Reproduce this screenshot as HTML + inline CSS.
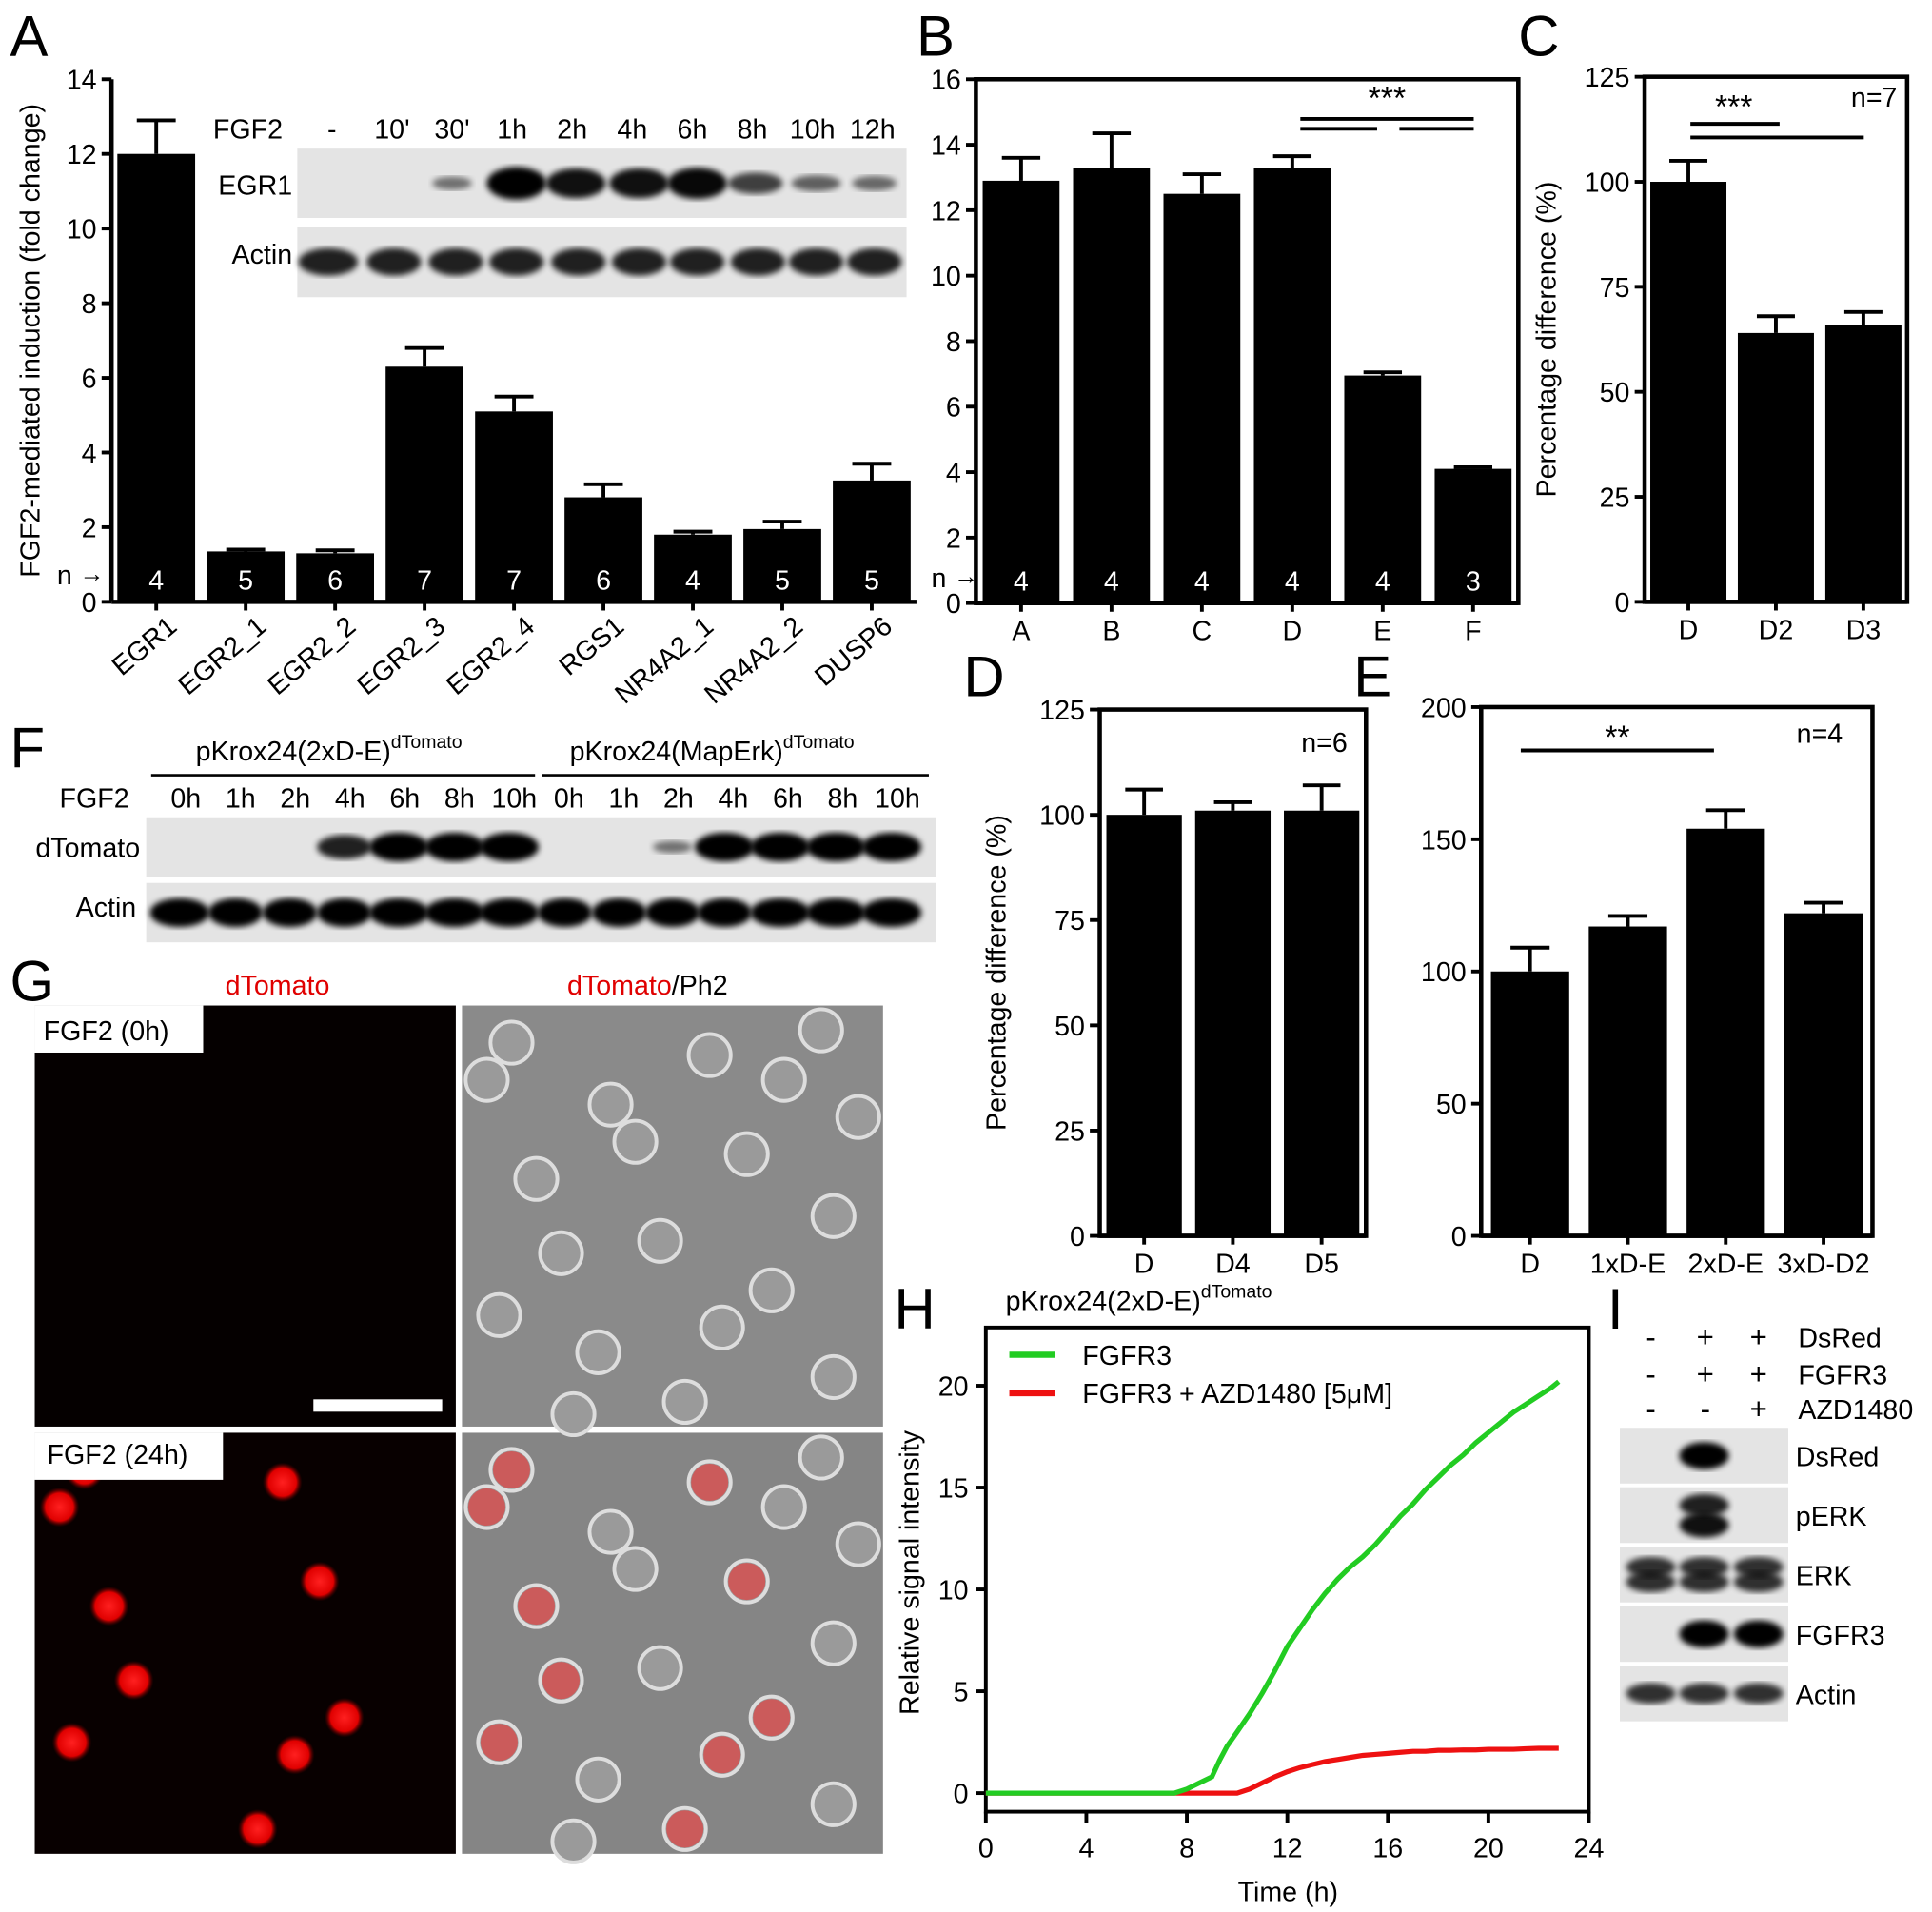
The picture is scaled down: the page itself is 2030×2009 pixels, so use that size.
<!DOCTYPE html>
<html><head><meta charset="utf-8"><style>
html,body{margin:0;padding:0;background:#fff}
svg{display:block}
text{font-family:"Liberation Sans",Arial,sans-serif}
</style></head><body>
<svg id="fig" width="2030" height="2009" viewBox="0 0 1560 1544" xmlns="http://www.w3.org/2000/svg">
<defs>
<radialGradient id="rd"><stop offset="0" stop-color="#ff2020"/><stop offset="0.7" stop-color="#e00000"/><stop offset="1" stop-color="#600000" stop-opacity="0"/></radialGradient>
<filter id="bl"><feGaussianBlur stdDeviation="2.5"/></filter>
</defs>
<g id="root"></g>
</svg>
<script>
// ---- data ----
const aCats=["EGR1","EGR2_1","EGR2_2","EGR2_3","EGR2_4","RGS1","NR4A2_1","NR4A2_2","DUSP6"];
const aVals=[12,1.35,1.3,6.3,5.1,2.8,1.8,1.95,3.25];
const aErr=[0.9,0.05,0.08,0.5,0.4,0.35,0.08,0.2,0.45];
const aN=["4","5","6","7","7","6","4","5","5"];
const aTicks=[0,2,4,6,8,10,12,14];
const bCats=["A","B","C","D","E","F"];
const bVals=[12.9,13.3,12.5,13.3,6.95,4.1];
const bErr=[0.7,1.05,0.6,0.35,0.1,0.05];
const bN=["4","4","4","4","4","3"];
const bTicks=[0,2,4,6,8,10,12,14,16];
const cCats=["D","D2","D3"];
const cVals=[100,64,66];
const cErr=[5,4,3];
const pTicks=[0,25,50,75,100,125];
const dCats=["D","D4","D5"];
const dVals=[100,101,101];
const dErr=[6,2,6];
const eCats=["D","1xD-E","2xD-E","3xD-D2"];
const eVals=[100,117,154,122];
const eErr=[9,4,7,4];
const eTicks=[0,50,100,150,200];
const hT=[0,7.5,8,8.5,9,9.3,9.6,10,10.5,11,11.5,12,12.5,13,13.5,14,14.5,15,15.5,16,16.5,17,17.5,18,18.5,19,19.5,20,20.5,21,21.5,22,22.5,22.8];
const hGreen=[0,0,0.2,0.5,0.8,1.6,2.3,3,3.9,4.9,6,7.2,8.1,9,9.8,10.5,11.1,11.6,12.2,12.9,13.6,14.2,14.9,15.5,16.1,16.6,17.2,17.7,18.2,18.7,19.1,19.5,19.9,20.2];
const hRed=[0,0,0,0,0,0,0,0,0.2,0.5,0.8,1.05,1.25,1.4,1.55,1.65,1.75,1.85,1.9,1.95,2,2.05,2.05,2.1,2.1,2.12,2.12,2.15,2.15,2.15,2.18,2.2,2.2,2.2];
const hXTicks=[0,4,8,12,16,20,24];
const hYTicks=[0,5,10,15,20];

const NS="http://www.w3.org/2000/svg";
const root=document.getElementById('root');
function el(tag,attrs,parent,txt){const e=document.createElementNS(NS,tag);for(const k in attrs)e.setAttribute(k,attrs[k]);if(txt!==undefined)e.textContent=txt;(parent||root).appendChild(e);return e;}
function T(x,y,s,size,anchor,extra){const a=Object.assign({x:x,y:y,"font-size":size||22,"text-anchor":anchor||"start"},extra||{});const t=el('text',a,null,s);return t;}
function TS(x,y,main,sup,mainColor){const t=el('text',{x:x,y:y,'font-size':22});const m=el('tspan',{fill:mainColor||'#000'},t,main);el('tspan',{dy:-10,'font-size':15},t,sup);return t;}

function barPanel(o){
  const g=el('g',{});
  
  
  const ys=v=>o.y0-(v-o.min)/(o.max-o.min)*(o.y0-o.yTop);
  if(o.box){const r=el('rect',{x:o.x0,y:o.boxTop,width:o.x1-o.x0,height:o.y0-o.boxTop,fill:'none',stroke:'#000','stroke-width':3.5},g);}
  else{el('line',{x1:o.x0,y1:o.yTop,x2:o.x0,y2:o.y0,stroke:'#000','stroke-width':3.5},g);}
  o.ticks.forEach(t=>{const y=ys(t);el('line',{x1:o.x0-8,y1:y,x2:o.x0,y2:y,stroke:'#000','stroke-width':3},g);
    const lab=el('text',{x:o.x0-12,y:y+8,'font-size':22,'text-anchor':'end'},g,String(t));});
  const n=o.cats.length;const step=(o.x1-o.x0)/n;
  o.cats.forEach((c,i)=>{
    const cx=o.x0+step*(i+0.5);const w=step*o.bw;const y=ys(o.vals[i]);
    const b=el('rect',{x:cx-w/2,y:y,width:w,height:o.y0-y,fill:'#000'},g);
    
    const ye=ys(o.vals[i]+o.err[i]);
    el('line',{x1:cx,y1:y,x2:cx,y2:ye,stroke:'#000','stroke-width':3},g);
    el('line',{x1:cx-w*0.25,y1:ye,x2:cx+w*0.25,y2:ye,stroke:'#000','stroke-width':3},g);
    el('line',{x1:cx,y1:o.y0,x2:cx,y2:o.y0+7,stroke:'#000','stroke-width':3},g);
    if(o.nlab){const t=el('text',{x:cx,y:o.y0-10,'font-size':22,'text-anchor':'middle',fill:'#fff'},g,o.nlab[i]);}
    let lab;
    if(o.rot){lab=el('text',{x:cx+18,y:o.y0+22,'font-size':22,'text-anchor':'end',transform:`rotate(-40 ${cx+18} ${o.y0+22})`},g,c);}
    else lab=el('text',{x:cx,y:o.y0+30,'font-size':22,'text-anchor':'middle'},g,c);
    
  });
  el('line',{x1:o.x0,y1:o.y0,x2:o.x1,y2:o.y0,stroke:'#000','stroke-width':3.5},g);
  if(o.ytitle){const t=el('text',{x:0,y:0,'font-size':22,'text-anchor':'middle',transform:`translate(${o.ytx},${(o.y0+o.yTop)/2}) rotate(-90)`},g,o.ytitle);}
  return ys;
}
function blot(x,y,w,h,bands,name){
  const g=el('g',{});
  el('rect',{x:x,y:y,width:w,height:h,fill:'#e4e4e4'},g);
  bands.forEach(b=>{if(b[2]>0){el('ellipse',{cx:b[0],cy:y+h/2+(b[3]||0),rx:b[1],ry:h*0.2*b[2]+2,fill:'#000',opacity:Math.min(1,0.3+b[2]*0.7),filter:'url(#bl)'},g);}});
  return g;
}

[["A",8,45],["B",740,45],["C",1226,45],["D",778,562],["E",1093,562],["F",8,620],["G",8,808],["H",722,1073],["I",1298,1073]].forEach(p=>{const t=T(p[1],p[2],p[0],46);});

// Panel A
barPanel({name:'panel-a-chart',x0:90,x1:740,y0:486,yTop:64,min:0,max:14,ticks:aTicks,cats:aCats,vals:aVals,err:aErr,nlab:aN,bw:0.87,rot:true,ytitle:'FGF2-mediated induction (fold change)',ytx:32});
T(46,472,"n",22);T(64,470,"→",20);
T(172,112,"FGF2",22);
["-","10'","30'","1h","2h","4h","6h","8h","10h","12h"].forEach((s,i)=>T(268+i*48.5,112,s,22,'middle'));
T(236,157,"EGR1",22,'end');T(236,213,"Actin",22,'end');
blot(240,120,492,56,[[365,16,0.3],[417,24,1],[465,24,0.9],[516,24,0.9],[563,24,0.95],[610,22,0.6],[659,20,0.4],[706,18,0.35]],'egr1-blot');
blot(240,183,492,57,[[265,24,0.8],[318,22,0.8],[368,22,0.8],[417,22,0.8],[467,22,0.8],[516,22,0.8],[563,22,0.8],[612,22,0.8],[659,22,0.8],[706,22,0.8]],'actin-blot-a');

// Panel B
barPanel({name:'panel-b-chart',box:true,boxTop:64,x0:788,x1:1226,y0:487,yTop:64,min:0,max:16,ticks:bTicks,cats:bCats,vals:bVals,err:bErr,nlab:bN,bw:0.85});
T(752,474,"n",22);T(770,472,"→",20);
[[1050,1190,96],[1050,1112,104],[1130,1190,104]].forEach(l=>el('line',{x1:l[0],y1:l[2],x2:l[1],y2:l[2],stroke:'#000','stroke-width':3}));
T(1120,88,"***",26,'middle');

// Panel C
barPanel({name:'panel-c-chart',box:true,boxTop:62,x0:1328,x1:1540,y0:486,yTop:62,min:0,max:125,ticks:pTicks,cats:cCats,vals:cVals,err:cErr,bw:0.87,ytitle:'Percentage difference (%)',ytx:1256});
el('line',{x1:1365,y1:100,x2:1437,y2:100,stroke:'#000','stroke-width':3});
el('line',{x1:1365,y1:111,x2:1505,y2:111,stroke:'#000','stroke-width':3});
T(1400,95,"***",26,'middle');T(1532,86,"n=7",22,'end');

// Panel D
barPanel({name:'panel-d-chart',box:true,boxTop:573,x0:888,x1:1103,y0:998,yTop:573,min:0,max:125,ticks:pTicks,cats:dCats,vals:dVals,err:dErr,bw:0.85,ytitle:'Percentage difference (%)',ytx:812});
T(1088,607,"n=6",22,'end');

// Panel E
barPanel({name:'panel-e-chart',box:true,boxTop:571,x0:1196,x1:1512,y0:998,yTop:571,min:0,max:200,ticks:eTicks,cats:eCats,vals:eVals,err:eErr,bw:0.8});
el('line',{x1:1228,y1:606,x2:1384,y2:606,stroke:'#000','stroke-width':3});
T(1306,604,"**",26,'middle');T(1488,600,"n=4",22,'end');

// Panel F
TS(158,614,"pKrox24(2xD-E)","dTomato");
TS(460,614,"pKrox24(MapErk)","dTomato");
el('line',{x1:122,y1:626,x2:432,y2:626,stroke:'#000','stroke-width':2});
el('line',{x1:438,y1:626,x2:750,y2:626,stroke:'#000','stroke-width':2});
T(48,652,"FGF2",22);
["0h","1h","2h","4h","6h","8h","10h","0h","1h","2h","4h","6h","8h","10h"].forEach((s,i)=>T(150+i*44.2,652,s,22,'middle'));
T(113,692,"dTomato",22,'end');T(110,740,"Actin",22,'end');
blot(118,660,638,48,[[278,22,0.8],[322,24,1],[367,24,1],[411,24,1],[543,16,0.3],[585,24,1],[630,24,1],[675,24,1],[720,24,1]],'dtomato-blot');
blot(118,713,638,48,[[145,24,1],[190,22,1],[234,22,1],[278,22,1],[322,24,1],[367,24,1],[411,24,1],[456,22,1],[500,22,1],[543,22,1],[585,22,1],[630,24,1],[675,24,1],[720,24,1]],'actin-blot-f');

// Panel G
T(224,803,"dTomato",22,'middle',{fill:'#e00000'});
(function(){const t=el('text',{x:458,y:803,'font-size':22});el('tspan',{fill:'#e00000'},t,'dTomato');el('tspan',{fill:'#000'},t,'/Ph2');})();
const gi=[['img-0h-dtomato',28,812,'#050000'],['img-0h-phase',373,812,'#8a8a8a'],['img-24h-dtomato',28,1157,'#080000'],['img-24h-phase',373,1157,'#858585']];
gi.forEach(a=>{const r=el('rect',{x:a[1],y:a[2],width:340,height:340,fill:a[3]});});
const cells=[[40,30],[120,80],[200,40],[290,20],[60,140],[160,190],[230,120],[300,170],[30,250],[110,280],[210,260],[300,300],[80,200],[260,60],[180,320],[140,110],[20,60],[320,90],[250,230],[90,330]];
cells.forEach(c=>{el('circle',{cx:373+c[0],cy:812+c[1],r:17,fill:'#9a9a9a',stroke:'#ddd','stroke-width':3});el('circle',{cx:373+c[0],cy:1157+c[1],r:17,fill:'#9a9a9a',stroke:'#ddd','stroke-width':3});});
cells.forEach((c,i)=>{if(i%2==0){el('circle',{cx:28+c[0],cy:1157+c[1],r:16,fill:'url(#rd)'});el('circle',{cx:373+c[0],cy:1157+c[1],r:15,fill:'#e04040',opacity:0.7});}});
el('rect',{x:28,y:812,width:136,height:38,fill:'#fff'});T(35,840,"FGF2 (0h)",22);
el('rect',{x:28,y:1157,width:152,height:38,fill:'#fff'});T(38,1182,"FGF2 (24h)",22);
const sb=el('rect',{x:253,y:1130,width:104,height:10,fill:'#fff'});

// Panel H
(function(){
  const X0=796,X1=1283,Y0=1448,Y1=1119;
  const xs=v=>X0+v/24*(X1-X0), ys=v=>Y0-v/20*(Y0-Y1);
  const fr=el('rect',{x:X0,y:1072,width:X1-X0,height:1463-1072,fill:'none',stroke:'#000','stroke-width':3});
  
  hXTicks.forEach(t=>{el('line',{x1:xs(t),y1:1463,x2:xs(t),y2:1472,stroke:'#000','stroke-width':3});const l=T(xs(t),1500,String(t),22,'middle');});
  hYTicks.forEach(t=>{el('line',{x1:X0-8,y1:ys(t),x2:X0,y2:ys(t),stroke:'#000','stroke-width':3});const l=T(X0-14,ys(t)+8,String(t),22,'end');});
  const pts=arr=>hT.map((t,i)=>xs(t)+','+ys(arr[i])).join(' ');
  const r=el('polyline',{points:pts(hRed),fill:'none',stroke:'#ee1111','stroke-width':4});
  const g=el('polyline',{points:pts(hGreen),fill:'none',stroke:'#22cc22','stroke-width':4});
  el('line',{x1:815,y1:1094,x2:852,y2:1094,stroke:'#22cc22','stroke-width':5});T(874,1102,"FGFR3",22);
  el('line',{x1:815,y1:1125,x2:852,y2:1125,stroke:'#ee1111','stroke-width':5});T(874,1133,"FGFR3 + AZD1480 [5\u03bcM]",22);
  TS(812,1058,"pKrox24(2xD-E)","dTomato");
  const xt=T(1040,1535,"Time (h)",22,'middle');
  const yt=el('text',{x:0,y:0,'font-size':22,'text-anchor':'middle',transform:'translate(742,1270) rotate(-90)'},null,'Relative signal intensity');
})();

// Panel I
[["-","+","+","DsRed",1088],["-","+","+","FGFR3",1118],["-","-","+","AZD1480",1146]].forEach(r=>{T(1333,r[4],r[0],24,'middle');T(1377,r[4],r[1],24,'middle');T(1420,r[4],r[2],24,'middle');T(1452,r[4],r[3],22);});
const iRows=[["DsRed",1153,[[0,0],[1376,1],[0,0]]],["pERK",1201,[[0,0],[1376,0.8,-8],[1376,0.9,8]]],["ERK",1249,[[1333,0.7,-6],[1333,0.7,6],[1376,0.7,-6],[1376,0.7,6],[1420,0.7,-6],[1420,0.7,6]]],["FGFR3",1297,[[1376,1],[1420,1]]],["Actin",1345,[[1333,0.7],[1376,0.7],[1420,0.7]]]];
iRows.forEach(r=>{blot(1308,r[1],136,45,r[2].filter(b=>b[0]>0).map(b=>[b[0],20,b[1],b[2]||0]),'blot-i-'+r[0].toLowerCase());T(1450,r[1]+31,r[0],22);});
</script>
</body></html>
